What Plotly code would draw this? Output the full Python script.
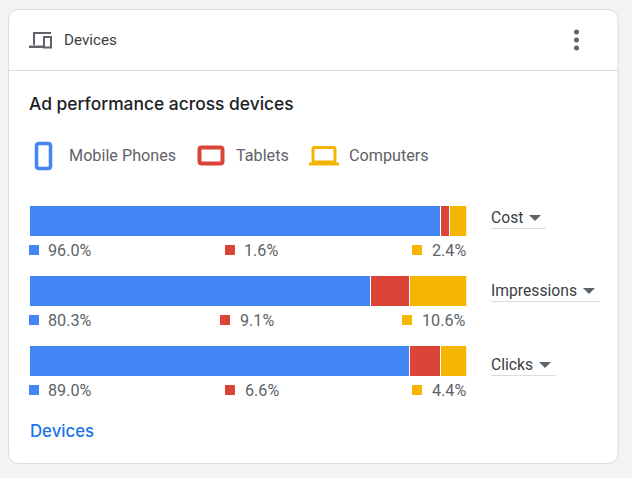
import plotly.graph_objects as go

W, H = 632, 478

metrics = ["Cost", "Impressions", "Clicks"]
devices = ["Mobile Phones", "Tablets", "Computers"]
colors = ["#4285f4", "#db4437", "#f4b400"]

# Percentages printed under each bar
label_mobile = [96.0, 80.3, 89.0]
label_tablet = [1.6, 9.1, 6.6]
label_computer = [2.4, 10.6, 4.4]

# Bar segment widths as drawn in the picture (share of the full bar)
drawn_mobile = [94.05, 78.05, 87.0]
drawn_tablet = [1.95, 8.95, 7.1]
drawn_computer = [4.0, 13.0, 5.9]

GREY = "#5f6368"
BORDER = "#dadce0"
FONT = "Roboto, sans-serif"
HEAD_FONT = "Inter, sans-serif"


def fx(x):
    return x / W


def fy(y):
    return 1 - y / H


def P(*pts):
    """Path in paper fractions from pixel commands."""
    out = []
    for p in pts:
        if isinstance(p, str):
            out.append(p)
        else:
            out.append(f"{fx(p[0]):.5f},{fy(p[1]):.5f}")
    return " ".join(out)


shapes = []
annotations = []


def rect(x0, y0, x1, y1, fill=None, line=None, lw=0, layer="above"):
    shapes.append(dict(type="rect", xref="paper", yref="paper",
                       x0=fx(x0), x1=fx(x1), y0=fy(y0), y1=fy(y1),
                       fillcolor=fill or "rgba(0,0,0,0)",
                       line=dict(color=line or "rgba(0,0,0,0)", width=lw),
                       layer=layer))


def hline(x0, x1, y, color=BORDER, lw=1, layer="above"):
    shapes.append(dict(type="line", xref="paper", yref="paper",
                       x0=fx(x0), x1=fx(x1), y0=fy(y), y1=fy(y),
                       line=dict(color=color, width=lw), layer=layer))


def path(d, fill=None, line=None, lw=0, layer="above"):
    shapes.append(dict(type="path", xref="paper", yref="paper", path=d,
                       fillcolor=fill or "rgba(0,0,0,0)",
                       line=dict(color=line or "rgba(0,0,0,0)", width=lw),
                       layer=layer))


def rrect(x0, y0, x1, y1, r, **kw):
    d = " ".join([
        "M", P((x0 + r, y0)), "L", P((x1 - r, y0)),
        "Q", P((x1, y0)), P((x1, y0 + r)), "L", P((x1, y1 - r)),
        "Q", P((x1, y1)), P((x1 - r, y1)), "L", P((x0 + r, y1)),
        "Q", P((x0, y1)), P((x0, y1 - r)), "L", P((x0, y0 + r)),
        "Q", P((x0, y0)), P((x0 + r, y0)), "Z"])
    path(d, **kw)


def text(x, y, s, size=16, color=GREY, anchor="left", weight=None, family=FONT):
    f = dict(family=family, size=size, color=color)
    if weight:
        f["weight"] = weight
    annotations.append(dict(xref="paper", yref="paper", x=fx(x), y=fy(y),
                            text=s, showarrow=False, xanchor=anchor,
                            yanchor="middle", font=f, borderpad=0,
                            borderwidth=0))


# Card
rrect(8.5, 9.5, 618, 463.5, 11, fill="white", line=BORDER, lw=1, layer="below")
hline(9, 618, 70.5, layer="below")

# Header icon
path("M " + P((34, 45)) + " L " + P((34, 33)) + " L " + P((51, 33)),
     line=GREY, lw=2)
rect(29, 45.5, 43, 48, fill=GREY)
rect(44, 37, 51, 47.5, line=GREY, lw=2)
text(64, 40, "Devices", size=15.2, color="#3c4043")

# Kebab menu
for cy in (32, 40, 48):
    shapes.append(dict(type="circle", xref="paper", yref="paper",
                       x0=fx(574), x1=fx(579), y0=fy(cy - 2.5), y1=fy(cy + 2.5),
                       fillcolor=GREY, line=dict(width=0)))

text(29, 103, "Ad performance across devices", size=17.4, color="#202124",
     weight=500, family=HEAD_FONT)

# Device legend
rrect(36.5, 143.5, 50.5, 168.5, 2.5, line=colors[0], lw=3.5)
rrect(199.5, 147.5, 222.5, 163.5, 2, line=colors[1], lw=4)
rrect(313, 147.5, 335, 162, 1.5, line=colors[2], lw=3)
rect(309, 162.5, 339, 165.5, fill=colors[2])
text(69, 155, devices[0], size=16.2)
text(236, 155, devices[1], size=16.2)
text(349, 155, devices[2], size=16.2)

# Percent labels under bars
rows = [
    dict(y=250, xs=(29, 225, 412), tx=(48, 244)),
    dict(y=320, xs=(29, 220, 402), tx=(48, 240)),
    dict(y=390, xs=(29, 225, 412), tx=(48, 245)),
]
for i, r in enumerate(rows):
    y = r["y"]
    for x, c in zip(r["xs"], colors):
        rect(x, y - 5, x + 10, y + 5, fill=c)
    text(r["tx"][0], y, f"{label_mobile[i]:.1f}%", size=16.2)
    text(r["tx"][1], y, f"{label_tablet[i]:.1f}%", size=16.2)
    text(466, y, f"{label_computer[i]:.1f}%", anchor="right", size=16.2)

# Metric dropdowns
drops = [
    dict(y=218, ux=546, ul=228.5, tx=529),
    dict(y=291, ux=600, ul=301.5, tx=583),
    dict(y=365, ux=556, ul=375.5, tx=539),
]
for m, d in zip(metrics, drops):
    text(491, d["y"] - 0.5, m, size=15.7, color="#3c4043")
    hline(491, d["ux"], d["ul"])
    ty = d["y"] - 3
    path("M " + P((d["tx"], ty)) + " L " + P((d["tx"] + 12, ty)) + " L "
         + P((d["tx"] + 6, ty + 6)) + " Z", fill=GREY)

text(30, 431, "Devices", size=16.8, color="#1a73e8", weight=500, family=HEAD_FONT)

fig = go.Figure()
for name, vals, c in zip(devices, [drawn_mobile, drawn_tablet, drawn_computer], colors):
    fig.add_trace(go.Bar(y=metrics, x=vals, name=name, orientation="h",
                         marker=dict(color=c, line=dict(color="white", width=1)),
                         hoverinfo="skip"))

fig.update_layout(
    width=W, height=H,
    margin=dict(l=0, r=0, t=0, b=0),
    barmode="stack", bargap=1 - 31 / 70,
    paper_bgcolor="#f1f3f4", plot_bgcolor="rgba(0,0,0,0)",
    showlegend=False,
    xaxis=dict(domain=[fx(29.5), fx(466.5)], range=[0, 100], visible=False, fixedrange=True),
    yaxis=dict(domain=[fy(396), fy(186)], autorange="reversed", visible=False,
               type="category", fixedrange=True),
    shapes=shapes, annotations=annotations,
    font=dict(family=FONT),
)

fig.write_html("out.html", config=dict(displayModeBar=False),
               post_script="document.body.style.margin='0';")
